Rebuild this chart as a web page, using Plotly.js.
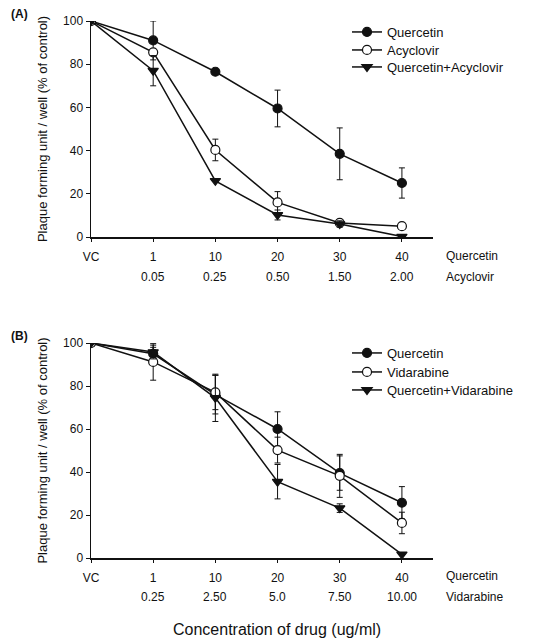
<!DOCTYPE html>
<html>
<head>
<meta charset="utf-8">
<script src="https://cdn.plot.ly/plotly-3.0.1.min.js"></script>
<style>html,body{margin:0;padding:0;background:#fff;}#chart{width:542px;height:640px;}</style>
</head>
<body>
<div id="chart"></div>
<script>
// ---- Data ----
const quercetinDoses = ['VC', '1', '10', '20', '30', '40'];
const acyclovirDoses = ['', '0.05', '0.25', '0.50', '1.50', '2.00'];
const vidarabineDoses = ['', '0.25', '2.50', '5.0', '7.50', '10.00'];

// Panel A
const aQuercetin = [100, 91, 76.5, 59.5, 38.5, 25];
const aQuercetinErr = [0, 9, 0, 8.5, 12, 7];
const aAcyclovir = [100, 85.5, 40.3, 16, 6.5, 5];
const aAcyclovirErr = [0, 0, 5, 5, 0, 0];
const aCombo = [100, 77, 26, 10.2, 6, 0.2];
const aComboErr = [0, 7, 0, 2.3, 1.5, 0];

// Panel B
const bQuercetin = [100, 95, 76, 60, 39.5, 25.7];
const bQuercetinErr = [0, 3, 9, 8, 8, 7.5];
const bVidarabine = [100, 91.2, 77, 50.2, 38.2, 16.3];
const bVidarabineErr = [0, 8.5, 8, 6, 10, 5];
const bCombo = [100, 95.8, 74.5, 35.5, 23.2, 1.7];
const bComboErr = [0, 3.2, 11, 8, 2, 0];

const xIdx = quercetinDoses.map((_, i) => i);

const FONT = 'Liberation Sans, Arial, Helvetica, sans-serif';
const black = '#111';

function trace(y, err, name, kind, xa, ya, legend) {
  return {
    x: xIdx, y: y, name: name, type: 'scatter', mode: 'lines+markers',
    xaxis: xa, yaxis: ya, showlegend: true, legend: legend,
    line: {color: black, width: 1.5},
    marker: {symbol: kind === 'tri' ? 'triangle-down' : 'circle', size: 9,
             color: kind === 'open' ? '#fff' : black,
             line: {color: black, width: 1.2}},
    error_y: {type: 'data', array: err, visible: true, color: black, thickness: 1, width: 3}
  };
}

const data = [
  trace(aQuercetin, aQuercetinErr, 'Quercetin', 'filled', 'x', 'y', 'legend'),
  trace(aAcyclovir, aAcyclovirErr, 'Acyclovir', 'open', 'x', 'y', 'legend2'),
  trace(aCombo, aComboErr, 'Quercetin+Acyclovir', 'tri', 'x', 'y', 'legend3'),
  trace(bQuercetin, bQuercetinErr, 'Quercetin', 'filled', 'x2', 'y2', 'legend4'),
  trace(bVidarabine, bVidarabineErr, 'Vidarabine', 'open', 'x2', 'y2', 'legend5'),
  trace(bCombo, bComboErr, 'Quercetin+Vidarabine', 'tri', 'x2', 'y2', 'legend6')
];

const W = 542, H = 640;
const xDom = [91 / W, 433 / W];
const yDomA = [1 - 237 / H, 1 - 21 / H];
const yDomB = [1 - 558 / H, 1 - 343 / H];

function xaxis(anchor) {
  return {
    domain: xDom, anchor: anchor, range: [0, 5.5], showgrid: false, zeroline: false,
    showline: true, linecolor: black, linewidth: 1.5,
    ticks: 'outside', ticklen: 3, tickcolor: black, tickwidth: 1,
    ticklabelstandoff: 5,
    tickvals: xIdx, ticktext: quercetinDoses,
    tickfont: {family: FONT, size: 12, color: black}
  };
}
function yaxis(anchor, dom) {
  return {
    domain: dom, anchor: anchor, range: [0, 100], showgrid: false, zeroline: false,
    showline: true, linecolor: black, linewidth: 1.5,
    ticks: 'outside', ticklen: 4, tickcolor: black, tickwidth: 1,
    tickvals: [0, 20, 40, 60, 80, 100],
    tickfont: {family: FONT, size: 12, color: black},
    title: {text: 'Plaque forming unit / well (% of control)', standoff: 12,
            font: {family: FONT, size: 13, color: black}}
  };
}

const annotations = [];
function rowLabels(labels, xref, yPix) {
  labels.forEach((t, i) => {
    if (!t) return;
    annotations.push({x: i, y: 1 - yPix / H, xref: xref, yref: 'paper', text: t,
      showarrow: false, xanchor: 'center', yanchor: 'middle',
      font: {family: FONT, size: 12, color: black}});
  });
}
rowLabels(acyclovirDoses, 'x', 277);
rowLabels(vidarabineDoses, 'x2', 597);
function sideLabel(t, yPix) {
  annotations.push({x: 444 / W, y: 1 - yPix / H, xref: 'paper', yref: 'paper', text: t,
    showarrow: false, xanchor: 'left', yanchor: 'middle',
    font: {family: FONT, size: 12, color: black}});
}
sideLabel('Quercetin', 256); sideLabel('Acyclovir', 277);
sideLabel('Quercetin', 576); sideLabel('Vidarabine', 597);
annotations.push({x: 19 / W, y: 1 - 14 / H, xref: 'paper', yref: 'paper', text: '<b>(A)</b>',
  showarrow: false, xanchor: 'center', yanchor: 'middle', font: {family: FONT, size: 12, color: black}});
annotations.push({x: 19 / W, y: 1 - 336 / H, xref: 'paper', yref: 'paper', text: '<b>(B)</b>',
  showarrow: false, xanchor: 'center', yanchor: 'middle', font: {family: FONT, size: 12, color: black}});
annotations.push({x: 277 / W, y: 1 - 629 / H, xref: 'paper', yref: 'paper', text: 'Concentration of drug (ug/ml)',
  showarrow: false, xanchor: 'center', yanchor: 'middle', font: {family: FONT, size: 16, color: black}});

// one legend per entry, so rows sit exactly where the reference has them
function legend(yPix) {
  return {x: 347 / W, y: 1 - (yPix - 15) / H, xanchor: 'left', yanchor: 'top',
    bgcolor: 'rgba(0,0,0,0)', borderwidth: 0, itemwidth: 30,
    font: {family: FONT, size: 13, color: black}};
}

const layout = {
  width: W, height: H, margin: {l: 0, r: 0, t: 0, b: 0},
  paper_bgcolor: '#fff', plot_bgcolor: '#fff',
  font: {family: FONT, color: black},
  xaxis: xaxis('y'), yaxis: yaxis('x', yDomA),
  xaxis2: xaxis('y2'), yaxis2: yaxis('x2', yDomB),
  legend: legend(32), legend2: legend(50), legend3: legend(67),
  legend4: legend(353), legend5: legend(372), legend6: legend(390),
  annotations: annotations
};

Plotly.newPlot('chart', data, layout, {staticPlot: true});
</script>
</body>
</html>
